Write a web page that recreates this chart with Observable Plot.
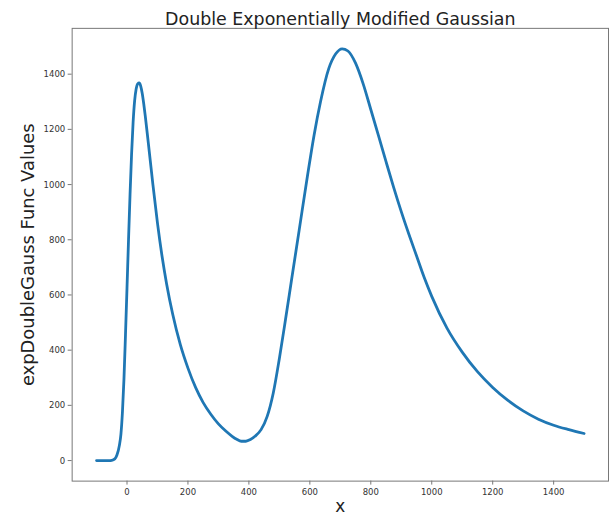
<!DOCTYPE html>
<html>
<head>
<meta charset="utf-8">
<script src="https://cdn.jsdelivr.net/npm/d3@7"></script>
<script src="https://cdn.jsdelivr.net/npm/@observablehq/plot@0.6"></script>
<style>
  html, body { margin: 0; padding: 0; background: #fff; overflow: hidden; }
  #chart svg { display: block; }
</style>
</head>
<body>
<div id="chart"></div>
<script>
// Sampled values of the double exponentially modified Gaussian
const xs = [-100, -80, -60, -50, -40, -33, -25, -20, -15, -10, -5, 0, 5, 10, 15, 20, 25, 30, 35, 40,
  45, 50, 55, 60, 70, 85, 100, 115, 130, 150, 175, 200, 225, 250, 275, 300, 325, 345, 360, 375,
  390, 405, 420, 440, 460, 480, 500, 520, 540, 565, 592, 614, 635, 662, 685, 706, 725, 750, 775, 800,
  825, 850, 875, 900, 925, 950, 975, 1000, 1050, 1100, 1150, 1200, 1250, 1300, 1350, 1400, 1450, 1500];
const ys = [0, 0, 0, 1, 6, 20, 55, 95, 175, 295, 455, 625, 800, 965, 1110, 1225, 1303, 1346, 1365, 1368,
  1357, 1330, 1292, 1248, 1150, 1000, 860, 740, 640, 530, 420, 335, 265, 210, 168, 133, 106, 88, 77, 70,
  70, 76, 88, 112, 160, 245, 370, 510, 655, 835, 1030, 1180, 1300, 1420, 1474, 1492, 1484, 1440, 1365, 1272,
  1178, 1083, 990, 902, 820, 742, 664, 595, 480, 393, 322, 265, 218, 180, 150, 128, 112, 98];

const xTicks = [0, 200, 400, 600, 800, 1000, 1200, 1400];
const yTicks = [0, 200, 400, 600, 800, 1000, 1200, 1400];

const titleText = "Double Exponentially Modified Gaussian";
const xLabel = "x";
const yLabel = "expDoubleGauss Func Values";

const points = xs.map((x, i) => ({x, y: ys[i]}));
const tickFont = "DejaVu Sans Condensed, DejaVu Sans";

const chart = Plot.plot({
  width: 612,
  height: 520,
  marginTop: 28,
  marginBottom: 37,
  marginLeft: 72,
  marginRight: 1,
  style: {fontFamily: "DejaVu Sans", background: "#fff", color: "#333"},
  x: {domain: [-180, 1580], label: null},
  y: {domain: [-74.5, 1566], label: null},
  marks: [
    Plot.frame({stroke: "#777", strokeWidth: 1}),
    Plot.axisX({ticks: xTicks, tickFormat: d3.format("d"), tickSize: 4, tickPadding: 3, fontSize: 9.5,
      stroke: "#777", fill: "#333", label: null, fontFamily: tickFont}),
    Plot.axisY({ticks: yTicks, tickFormat: d3.format("d"), tickSize: 4, tickPadding: 3, fontSize: 9.5,
      stroke: "#777", fill: "#333", label: null, fontFamily: tickFont}),
    Plot.line(points, {x: "x", y: "y", stroke: "#1f77b4", strokeWidth: 2.8, curve: "monotone-x"}),
    Plot.text([titleText], {text: d => d, frameAnchor: "top", dy: -16, fontSize: 17.5, fill: "#222"}),
    Plot.text([xLabel], {text: d => d, frameAnchor: "bottom", lineAnchor: "bottom", dy: 31.5, fontSize: 17, fill: "#222"}),
    Plot.text([yLabel], {text: d => d, frameAnchor: "left", textAnchor: "middle", dx: -44, rotate: -90,
      fontSize: 18, fill: "#222"})
  ]
});

document.getElementById("chart").appendChild(chart);
</script>
</body>
</html>
